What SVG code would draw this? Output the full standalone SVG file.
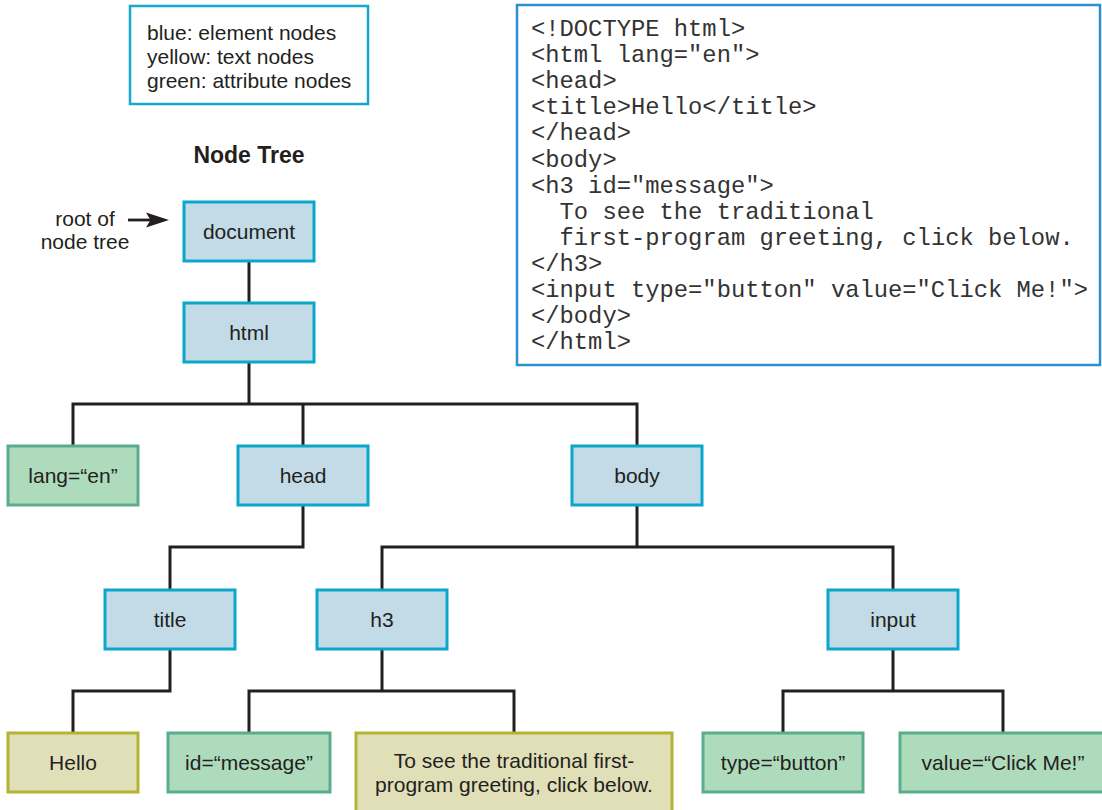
<svg xmlns="http://www.w3.org/2000/svg" width="1102" height="810" viewBox="0 0 1102 810">
<style>
.t{font-family:"Liberation Sans",Arial,sans-serif;font-size:21px;fill:#231f20}
.c{text-anchor:middle}
.h{font-size:23px;font-weight:bold}
.code{font-family:"Liberation Mono","Courier New",monospace;font-size:23.8px;fill:#333}
.el{fill:#c2dbe7;stroke:#0aa6cb;stroke-width:3}
.at{fill:#afdbbd;stroke:#5aad8b;stroke-width:3}
.tx{fill:#e1dfb8;stroke:#b3b334;stroke-width:3}
.ln{fill:none;stroke:#231f20;stroke-width:3}
</style>
<rect id="legend" x="130" y="6" width="238" height="98" fill="#fff" stroke="#16a8cf" stroke-width="2.5"/>
<g id="legend-text">
<text class="t" x="147" y="40">blue: element nodes</text>
<text class="t" x="147" y="64">yellow: text nodes</text>
<text class="t" x="147" y="87.5">green: attribute nodes</text>
</g>
<g id="code">
<rect x="517" y="5" width="583" height="360" fill="#fff" stroke="#2c8fd2" stroke-width="2.5"/>
<text class="code" x="531" y="36">&lt;!DOCTYPE html&gt;</text>
<text class="code" x="531" y="62.1">&lt;html lang="en"&gt;</text>
<text class="code" x="531" y="88.2">&lt;head&gt;</text>
<text class="code" x="531" y="114.3">&lt;title&gt;Hello&lt;/title&gt;</text>
<text class="code" x="531" y="140.4">&lt;/head&gt;</text>
<text class="code" x="531" y="166.5">&lt;body&gt;</text>
<text class="code" x="531" y="192.6">&lt;h3 id="message"&gt;</text>
<text class="code" x="559.6" y="218.7">To see the traditional</text>
<text class="code" x="559.6" y="244.8">first-program greeting, click below.</text>
<text class="code" x="531" y="270.9">&lt;/h3&gt;</text>
<text class="code" x="531" y="297">&lt;input type="button" value="Click Me!"&gt;</text>
<text class="code" x="531" y="323.1">&lt;/body&gt;</text>
<text class="code" x="531" y="349.2">&lt;/html&gt;</text>
</g>
<text id="heading" class="t c h" x="249" y="163">Node Tree</text>
<g id="root-label">
<text class="t c" x="85" y="226">root of</text>
<text class="t c" x="85" y="249">node tree</text>
<line x1="128" y1="220" x2="152" y2="220" stroke="#231f20" stroke-width="2.8"/>
<polygon points="169,220 146,212.5 150.5,220 146,227.5" fill="#231f20"/>
</g>
<g id="connectors">
<path class="ln" d="M249,261V303"/>
<path class="ln" d="M249,362V404M73,446V404H637V446M303,404V446"/>
<path class="ln" d="M303,505V547H170V590"/>
<path class="ln" d="M637,505V547M382,590V547H893V590"/>
<path class="ln" d="M170,649V691H73V733"/>
<path class="ln" d="M382,649V691M249,733V691H514V733"/>
<path class="ln" d="M893,649V691M783,733V691H1003V733"/>
</g>
<g id="n-document"><rect class="el" x="184" y="202" width="130" height="59"/><text class="t c" x="249" y="238.5">document</text></g>
<g id="n-html"><rect class="el" x="184" y="303" width="130" height="59"/><text class="t c" x="249" y="339.5">html</text></g>
<g id="n-lang"><rect class="at" x="8" y="446" width="130" height="59"/><text class="t c" x="73" y="482.5">lang=“en”</text></g>
<g id="n-head"><rect class="el" x="238" y="446" width="130" height="59"/><text class="t c" x="303" y="482.5">head</text></g>
<g id="n-body"><rect class="el" x="572" y="446" width="130" height="59"/><text class="t c" x="637" y="482.5">body</text></g>
<g id="n-title"><rect class="el" x="105" y="590" width="130" height="59"/><text class="t c" x="170" y="626.5">title</text></g>
<g id="n-h3"><rect class="el" x="317" y="590" width="130" height="59"/><text class="t c" x="382" y="626.5">h3</text></g>
<g id="n-input"><rect class="el" x="828" y="590" width="130" height="59"/><text class="t c" x="893" y="626.5">input</text></g>
<g id="n-hello"><rect class="tx" x="8" y="733" width="130" height="59"/><text class="t c" x="73" y="769.5">Hello</text></g>
<g id="n-id"><rect class="at" x="168" y="733" width="162" height="59"/><text class="t c" x="249" y="769.5">id=“message”</text></g>
<g id="n-text"><rect class="tx" x="356" y="733" width="316" height="90"/><text class="t c" x="514" y="768">To see the traditional first-</text><text class="t c" x="514" y="792">program greeting, click below.</text></g>
<g id="n-type"><rect class="at" x="703" y="733" width="160" height="59"/><text class="t c" x="783" y="769.5">type=“button”</text></g>
<g id="n-value"><rect class="at" x="900" y="733" width="210" height="59"/><text class="t c" x="1003" y="769.5">value=“Click Me!”</text></g>
</svg>
